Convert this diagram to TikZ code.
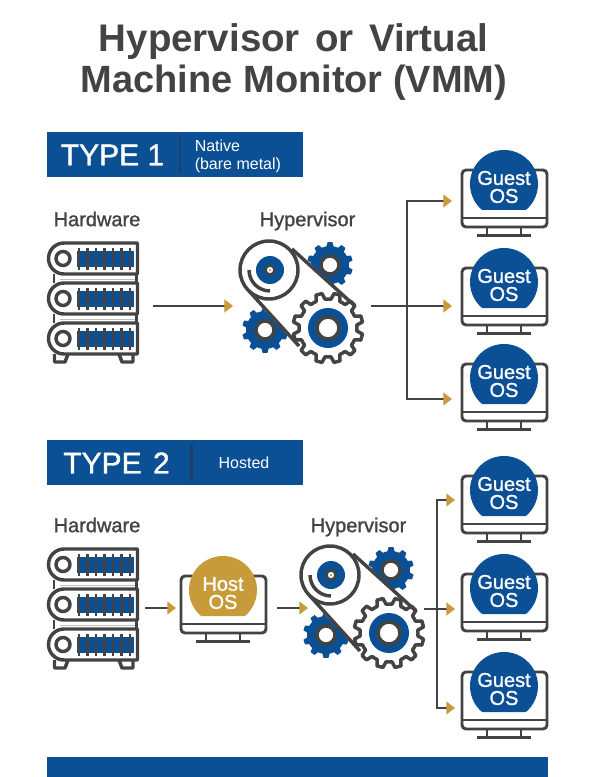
\documentclass[tikz,border=0pt]{standalone}
\usepackage{fontspec}
\setmainfont{Liberation Sans}
\newfontfamily\medf[FakeBold=1.2]{Liberation Sans}
\usetikzlibrary{arrows.meta,calc}
\definecolor{ink}{HTML}{434343}
\definecolor{navy}{HTML}{0B4F94}
\definecolor{gold}{HTML}{C79A3A}
\definecolor{divider}{HTML}{1F3F6B}
\newcommand{\px}[1]{\fontsize{\fpeval{#1*0.75}}{\fpeval{#1*0.75}}\selectfont}
\newcommand{\gearpath}[5]{% cx cy ro ri n
  (#1,#2) ++(0:#4)
  \foreach \i in {1,...,#5}{
    -- ($(#1,#2)+({360/#5*(\i-1)+360/#5*0.2}:#4)$)
    -- ($(#1,#2)+({360/#5*(\i-1)+360/#5*0.33}:#3)$)
    -- ($(#1,#2)+({360/#5*(\i-1)+360/#5*0.67}:#3)$)
    -- ($(#1,#2)+({360/#5*(\i-1)+360/#5*0.8}:#4)$)
    -- ($(#1,#2)+({360/#5*\i}:#4)$)
  } -- cycle}
\tikzset{
  line/.style={draw=ink,line width=2.6pt,line join=round},
  thin line/.style={draw=ink,line width=2.2pt,line join=round},
  flow/.style={draw=ink,line width=2pt,-{Triangle[fill=gold,color=gold,length=6.5pt,width=9.5pt]}},
  flowline/.style={draw=ink,line width=2pt},
  label/.style={text=ink,font=\medf\px{20},inner sep=0pt,anchor=center},
  ostext/.style={text=white,font=\medf\px{20},align=center,inner sep=0pt,anchor=center},
  bannertext/.style={text=white,inner sep=0pt,anchor=center},
  banner/.style={fill=navy,draw=none},
  serverrow/.pic={
    \path[fill=navy] (77,251) rectangle (133.5,267);
    \foreach \x in {79,87.5,...,131}{\draw[ink,line width=2pt] (\x,248)--(\x,270);}
    \draw[line] (137.5,243) -- (64,243) arc[start angle=-90,end angle=-270,radius=15.5] -- (137.5,274) -- cycle;
    \draw[line] (63,258.5) circle[radius=7];
  },
  server/.pic={
    \draw[ink!35,line width=0.6pt] (60,279)--(136,279) (60,319)--(136,319);
    \draw[thin line] (54,274)--(54,283) (136.5,274)--(136.5,283) (54,314)--(54,323) (136.5,314)--(136.5,323);
    \draw[line] (54.5,354)--(54.5,362)--(65,362)--(68,354);
    \draw[line] (133,354)--(133,362)--(122,362)--(119,354);
    \path (0,0) pic {serverrow};
    \path (0,40) pic {serverrow};
    \path (0,80) pic {serverrow};
  },
  gears/.pic={
    \fill[navy] \gearpath{330}{265}{23}{19}{10};
    \fill[navy] \gearpath{265}{330}{23}{19}{10};
    \draw[line,fill=white] (330,265) circle[radius=9];
    \draw[line,fill=white] (265,330) circle[radius=9];
    \fill[white] (293,247)--(355,306)--(330,363)--(299,347)--(248,293)--cycle;
    \draw[line,fill=white] \gearpath{328}{328}{35}{29}{12};
    \draw[line,fill=white] (269,270) circle[radius=29];
    \draw[line] (292,249)--(355,306);
    \draw[line] (249,291)--(299,346);
    \fill[navy] (270,270) circle[radius=14];
    \draw[line width=1.8pt,draw=ink,fill=white] (270,270) circle[radius=4.5];
    \fill[ink] (270,270) circle[radius=0.8];
    \draw[line] (249,270) arc[start angle=180,end angle=90,radius=21];
    \fill[navy] (328,328) circle[radius=20];
    \draw[line,fill=white] (328,328) circle[radius=11];
  },
  monitor/.pic={
    \draw[thin line,rounded corners=3pt] (462,170) rectangle (547,227);
    \draw[thin line] (462,218)--(547,218);
    \draw[thin line] (487,227)--(487,235) (521,227)--(521,235);
    \draw[thin line] (477,235.5)--(531,235.5);
  },
}
\newcommand{\blob}[3]{\fill[#3] ({#1-21.9},{#2+26}) arc[start angle=130.1,delta angle=279.8,radius=34] -- cycle;}
\begin{document}
\begin{tikzpicture}[x=0.75pt,y=-0.75pt]
\useasboundingbox (0,0) rectangle (600,777);
\fill[white] (0,0) rectangle (600,777);
% title
\node[text=ink,font=\bfseries\px{38.5},inner sep=0pt] (t1) at (293.5,42) {Hypervisor\hspace{0.12em} or\hspace{0.12em} Virtual};
\node[text=ink,font=\bfseries\px{38},inner sep=0pt] (t2) at (294,83) {Machine Monitor (VMM)};
% banners
\fill[banner] (47,132) rectangle (303,177);
\fill[divider] (178.5,136) rectangle (181,173);
\node[bannertext,font=\medf\px{30}] (b1) at (112.5,155) {TYPE 1};
\node[bannertext,font=\px{16},align=left,anchor=west] (b1s) at (194.5,156.5) {Native\\[1pt](bare metal)};
\fill[banner] (47,440) rectangle (303,485);
\fill[divider] (190,444) rectangle (192.5,481);
\node[bannertext,font=\medf\px{30}] (b2) at (116.5,463) {TYPE\hspace{0.1em} 2};
\node[bannertext,font=\px{16}] (b2s) at (244,463) {Hosted};
\fill[banner] (47,757) rectangle (548,777);
% labels
\node[label] (l1) at (97,219) {Hardware};
\node[label] (l2) at (307.5,221) {Hypervisor};
\node[label] (l3) at (97,525) {Hardware};
\node[label] (l4) at (358.5,527) {Hypervisor};
% icons
\path (0,0) pic {server};
\path (0,306) pic {server};
\path (0,0) pic {gears};
\path (61,305) pic {gears};
% monitors
\foreach \n/\dy in {a/0,b/98,c/194,d/306,e/404,f/502}{
  \path (0,\dy) pic {monitor};
  \blob{504}{184+\dy}{navy}
  \node[ostext] (g\n) at (504,{187+\dy}) {Guest\\[-1.5pt]OS};
}
\path (-281,406) pic {monitor};
\blob{223}{590}{gold}
\node[ostext] (host) at (223,593) {Host\\[-1.5pt]OS};
% connectors
\coordinate (a1) at (153,306); \coordinate (a2) at (233,306);
\draw[flow] (a1)--(a2);
\coordinate (s1) at (371,306); \coordinate (j1) at (407,306);
\coordinate (ma) at (452,201); \coordinate (mb) at (452,306); \coordinate (mc) at (452,399);
\draw[flowline] (s1)--(j1);
\draw[flow] (j1)--(mb);
\draw[flow] (j1)|-(ma);
\draw[flow] (j1)|-(mc);
\coordinate (a3) at (145,608); \coordinate (a4) at (176,608);
\draw[flow] (a3)--(a4);
\coordinate (a5) at (277,608); \coordinate (a6) at (308,608);
\draw[flow] (a5)--(a6);
\coordinate (s2) at (424,609); \coordinate (j2) at (437,609);
\draw[flowline] (s2)--(j2);
\coordinate (md2) at (455,500); \coordinate (me2) at (455,609); \coordinate (mf2) at (455,708);
\draw[flow] (j2)--(me2);
\draw[flow] (j2)|-(md2);
\draw[flow] (j2)|-(mf2);
\end{tikzpicture}
\end{document}
